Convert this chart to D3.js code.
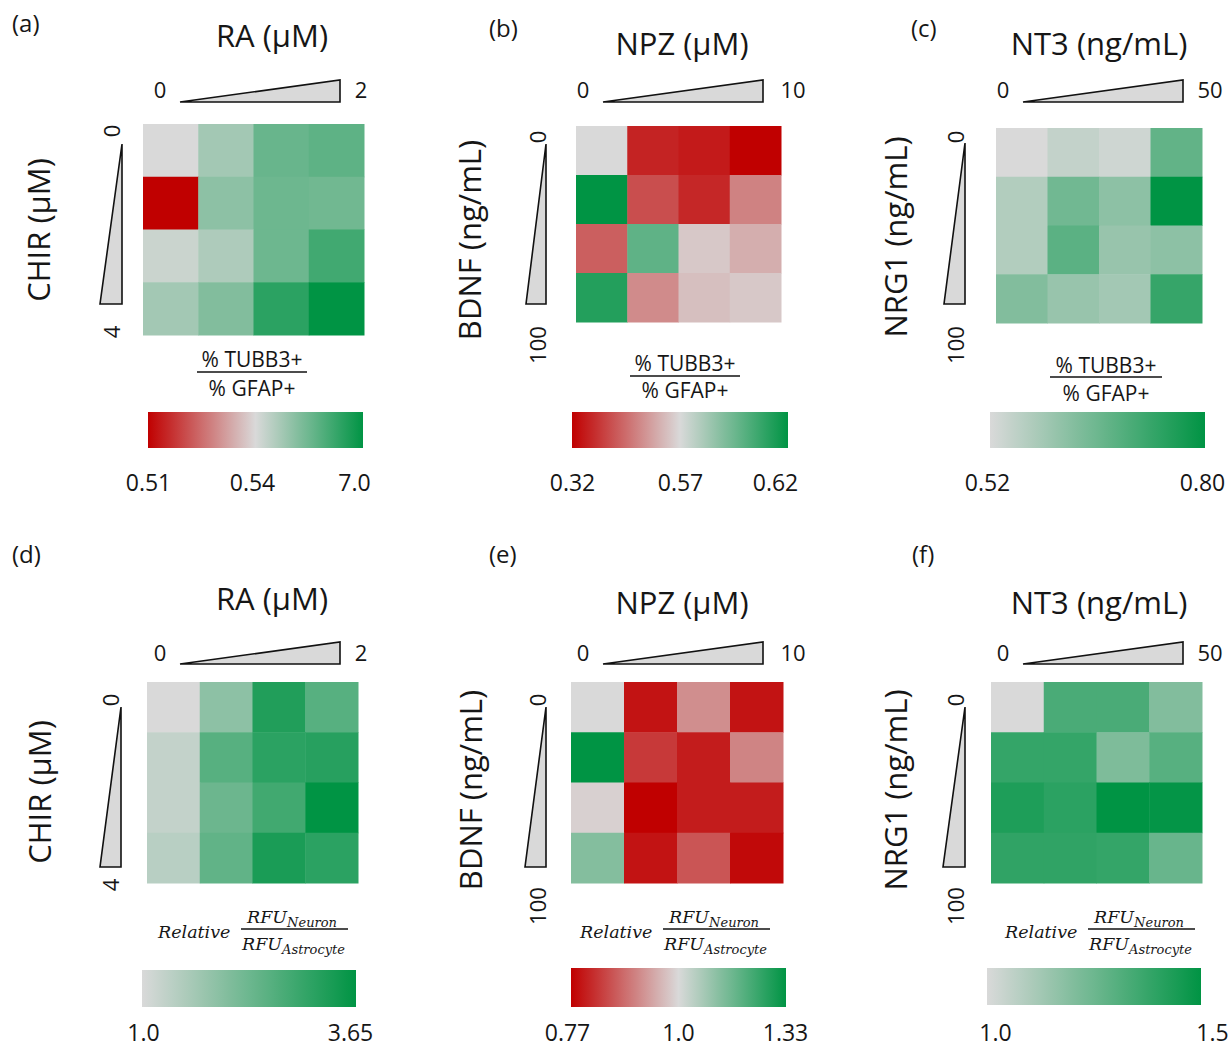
<!DOCTYPE html>
<html>
<head>
<meta charset="utf-8">
<script src="https://cdn.jsdelivr.net/npm/d3@7"></script>
<style>
  html, body { margin: 0; padding: 0; background: #ffffff; }
  svg { display: block; }
  text { font-family: "Open Sans", "Noto Sans", sans-serif; fill: #161616; }
  .rel text { font-family: "DejaVu Serif", "Liberation Serif", serif; font-style: italic; }
</style>
</head>
<body>
<svg id="chart" width="1231" height="1049"></svg>
<script>
// ---------------- DATA ----------------
const panelLabels = ["(a)", "(b)", "(c)", "(d)", "(e)", "(f)"];
const xTitles = ["RA (μM)", "NPZ (μM)", "NT3 (ng/mL)", "RA (μM)", "NPZ (μM)", "NT3 (ng/mL)"];
const yTitles = ["CHIR (μM)", "BDNF (ng/mL)", "NRG1 (ng/mL)", "CHIR (μM)", "BDNF (ng/mL)", "NRG1 (ng/mL)"];
const xEndLabels = [["0", "2"], ["0", "10"], ["0", "50"], ["0", "2"], ["0", "10"], ["0", "50"]];
const yEndLabels = [["0", "4"], ["0", "100"], ["0", "100"], ["0", "4"], ["0", "100"], ["0", "100"]];
const colLevels = ["L1", "L2", "L3", "L4"];
const rowLevels = ["L1", "L2", "L3", "L4"];
const legendKinds = ["ratio", "ratio", "ratio", "rfu", "rfu", "rfu"];

// colour-scale break values (min, [mid,] max) and their printed labels
const colorDomains = [
  [0.51, 0.54, 7.0],
  [0.32, 0.57, 0.62],
  [0.52, 0.80],
  [1.0, 3.65],
  [0.77, 1.0, 1.33],
  [1.0, 1.5]
];
const tickLabels = [
  ["0.51", "0.54", "7.0"],
  ["0.32", "0.57", "0.62"],
  ["0.52", "0.80"],
  ["1.0", "3.65"],
  ["0.77", "1.0", "1.33"],
  ["1.0", "1.5"]
];

// cell values, rows top (0) -> bottom (max), columns left (0) -> right (max)
const valuesA = [
  [0.54, 2.16, 3.90, 4.20],
  [0.51, 2.80, 3.77, 3.64],
  [1.00, 1.83, 3.77, 5.06],
  [2.16, 3.12, 5.71, 7.00]
];
const valuesB = [
  [0.57, 0.36, 0.35, 0.32],
  [0.62, 0.41, 0.365, 0.47],
  [0.43, 0.598, 0.55, 0.52],
  [0.612, 0.48, 0.54, 0.55]
];
const valuesC = [
  [0.520, 0.548, 0.534, 0.674],
  [0.570, 0.654, 0.618, 0.800],
  [0.570, 0.682, 0.604, 0.618],
  [0.632, 0.604, 0.590, 0.730]
];
const valuesD = [
  [1.00, 1.93, 3.25, 2.59],
  [1.27, 2.59, 3.12, 3.17],
  [1.27, 2.33, 2.86, 3.65],
  [1.40, 2.46, 3.33, 3.12]
];
const valuesE = [
  [1.00, 0.79, 0.92, 0.79],
  [1.33, 0.83, 0.80, 0.91],
  [0.99, 0.77, 0.80, 0.80],
  [1.13, 0.79, 0.86, 0.78]
];
const valuesF = [
  [1.00, 1.33, 1.33, 1.20],
  [1.38, 1.38, 1.21, 1.30],
  [1.43, 1.40, 1.50, 1.49],
  [1.39, 1.39, 1.38, 1.26]
];
const panelValues = [valuesA, valuesB, valuesC, valuesD, valuesE, valuesF];

// ---------------- STYLE / LAYOUT ----------------
const RED = "#C00000", GRAY = "#D9D9D9", GREEN = "#009444";

const layouts = [
  { lab: [12, 32], title: [272, 47], tri: [180, 340, 80, 102], triLab: [160, 361, 98],
    heat: [143, 364, 124, 335], vtri: [100, 122, 144, 304], vLab: [111, 131, 332], yTitle: [38, 230],
    cb: { cx: 252, b1: 367, line: [197, 307, 372], b2: 396 }, bar: [148, 363, 412, 448], ticks: [148, 252, 354], tickY: 491 },
  { lab: [489, 37], title: [682, 55], tri: [603, 763, 80, 102], triLab: [583, 793, 98],
    heat: [576, 781, 126, 322], vtri: [526, 546, 144, 304], vLab: [537, 137, 345], yTitle: [469, 240],
    cb: { cx: 685, b1: 371, line: [630, 740, 376], b2: 398 }, bar: [572, 788, 412, 448], ticks: [572, 680, 775], tickY: 491 },
  { lab: [911, 37], title: [1099, 55], tri: [1023, 1183, 80, 102], triLab: [1003, 1210, 98],
    heat: [996, 1202, 128, 323], vtri: [944, 965, 143, 304], vLab: [955, 137, 345], yTitle: [895, 237],
    cb: { cx: 1106, b1: 373, line: [1050, 1162, 377], b2: 401 }, bar: [990, 1205, 412, 448], ticks: [987, 1202], tickY: 491 },
  { lab: [12, 563], title: [272, 610], tri: [180, 340, 642, 664], triLab: [160, 361, 661],
    heat: [147, 358, 682, 883], vtri: [100, 121, 707, 867], vLab: [110, 700, 885], yTitle: [39, 792],
    rel: [158, 932], bar: [142, 356, 970, 1007], ticks: [143, 350], tickY: 1041 },
  { lab: [489, 563], title: [682, 614], tri: [603, 763, 642, 664], triLab: [583, 793, 661],
    heat: [571, 783, 682, 883], vtri: [525, 546, 707, 867], vLab: [537, 700, 906], yTitle: [470, 790],
    rel: [580, 932], bar: [571, 786, 968, 1007], ticks: [567, 678, 785], tickY: 1041 },
  { lab: [912, 563], title: [1099, 614], tri: [1023, 1183, 642, 664], triLab: [1003, 1210, 661],
    heat: [991, 1202, 682, 883], vtri: [943, 965, 707, 867], vLab: [955, 700, 906], yTitle: [895, 790],
    rel: [1005, 932], bar: [987, 1201, 968, 1005], ticks: [995, 1212], tickY: 1041 }
];

// ---------------- DRAW ----------------
const svg = d3.select("#chart");
const defs = svg.append("defs");

panelLabels.forEach((lbl, p) => {
  const L = layouts[p];
  const g = svg.append("g");
  const dom = colorDomains[p];
  const range = dom.length === 3 ? [RED, GRAY, GREEN] : [GRAY, GREEN];
  const color = d3.scaleLinear().domain(dom).range(range).interpolate(d3.interpolateRgb).clamp(true);

  // panel letter
  g.append("text").attr("x", L.lab[0]).attr("y", L.lab[1]).attr("font-size", 24).text(lbl);

  // x title
  g.append("text").attr("x", L.title[0]).attr("y", L.title[1]).attr("text-anchor", "middle")
    .attr("font-size", 31).text(xTitles[p]);

  // horizontal wedge
  const [tx0, tx1, ty0, ty1] = L.tri;
  g.append("path").attr("d", `M${tx0},${ty1}L${tx1},${ty1}L${tx1},${ty0}Z`)
    .attr("fill", GRAY).attr("stroke", "#111").attr("stroke-width", 1.6).attr("stroke-linejoin", "miter");
  g.append("text").attr("x", L.triLab[0]).attr("y", L.triLab[2]).attr("text-anchor", "middle")
    .attr("font-size", 22).text(xEndLabels[p][0]);
  g.append("text").attr("x", L.triLab[1]).attr("y", L.triLab[2]).attr("text-anchor", "middle")
    .attr("font-size", 22).text(xEndLabels[p][1]);

  // vertical wedge
  const [vx0, vx1, vy0, vy1] = L.vtri;
  g.append("path").attr("d", `M${vx1},${vy0}L${vx1},${vy1}L${vx0},${vy1}Z`)
    .attr("fill", GRAY).attr("stroke", "#111").attr("stroke-width", 1.6);
  g.append("text").attr("transform", `translate(${L.vLab[0]},${L.vLab[1]}) rotate(-90)`)
    .attr("text-anchor", "middle").attr("dominant-baseline", "central").attr("font-size", 22).text(yEndLabels[p][0]);
  g.append("text").attr("transform", `translate(${L.vLab[0]},${L.vLab[2]}) rotate(-90)`)
    .attr("text-anchor", "middle").attr("dominant-baseline", "central").attr("font-size", 22).text(yEndLabels[p][1]);

  // y title
  g.append("text").attr("transform", `translate(${L.yTitle[0]},${L.yTitle[1]}) rotate(-90)`)
    .attr("text-anchor", "middle").attr("dominant-baseline", "central").attr("font-size", 31).text(yTitles[p]);

  // heatmap
  const [hx0, hx1, hy0, hy1] = L.heat;
  const xs = d3.scaleBand().domain(colLevels).range([hx0, hx1]);
  const ys = d3.scaleBand().domain(rowLevels).range([hy0, hy1]);
  const cells = [];
  panelValues[p].forEach((row, r) => row.forEach((v, c) => cells.push({ r: rowLevels[r], c: colLevels[c], v })));
  g.selectAll("rect.cell").data(cells).enter().append("rect").attr("class", "cell")
    .attr("x", d => xs(d.c)).attr("y", d => ys(d.r))
    .attr("width", xs.bandwidth() + 0.5).attr("height", ys.bandwidth() + 0.5)
    .attr("fill", d => color(d.v));

  // legend title
  if (legendKinds[p] === "ratio") {
    const cb = L.cb;
    g.append("text").attr("x", cb.cx).attr("y", cb.b1).attr("text-anchor", "middle").attr("font-size", 21).text("% TUBB3+");
    g.append("line").attr("x1", cb.line[0]).attr("x2", cb.line[1]).attr("y1", cb.line[2]).attr("y2", cb.line[2])
      .attr("stroke", "#111").attr("stroke-width", 1.6);
    g.append("text").attr("x", cb.cx).attr("y", cb.b2).attr("text-anchor", "middle").attr("font-size", 21).text("% GFAP+");
  } else {
    const [rx, ry] = L.rel;
    const rg = g.append("g").attr("class", "rel");
    rg.append("text").attr("x", rx).attr("y", ry).attr("dominant-baseline", "central").attr("font-size", 17.5).text("Relative");
    const num = rg.append("text").attr("x", rx + 89).attr("y", ry - 9).attr("font-size", 17.5);
    num.append("tspan").text("RFU");
    num.append("tspan").attr("font-size", 13).attr("dy", 4).text("Neuron");
    rg.append("line").attr("x1", rx + 83).attr("x2", rx + 190).attr("y1", ry - 3).attr("y2", ry - 3)
      .attr("stroke", "#111").attr("stroke-width", 1.4);
    const den = rg.append("text").attr("x", rx + 84).attr("y", ry + 18).attr("font-size", 17.5);
    den.append("tspan").text("RFU");
    den.append("tspan").attr("font-size", 13).attr("dy", 4).text("Astrocyte");
  }

  // colour bar
  const [bx0, bx1, by0, by1] = L.bar;
  const gid = "grad" + p;
  const grad = defs.append("linearGradient").attr("id", gid).attr("x1", "0%").attr("x2", "100%");
  const posToVal = d3.scaleLinear().domain(dom.length === 3 ? [0, 0.5, 1] : [0, 1]).range(dom);
  d3.range(0, 1.0001, 0.05).forEach(t => {
    grad.append("stop").attr("offset", (t * 100) + "%").attr("stop-color", color(posToVal(t)));
  });
  g.append("rect").attr("x", bx0).attr("y", by0).attr("width", bx1 - bx0).attr("height", by1 - by0)
    .attr("fill", `url(#${gid})`);

  // colour-bar tick labels via axis
  const tickScale = d3.scaleLinear().domain(dom).range(L.ticks);
  const axis = d3.axisBottom(tickScale).tickValues(dom).tickSize(0)
    .tickFormat((d, i) => tickLabels[p][i]);
  const ag = g.append("g").attr("transform", `translate(0,${L.tickY - 17})`).call(axis);
  ag.select(".domain").remove();
  ag.selectAll("text").attr("font-size", 23).attr("font-family", "'Open Sans', sans-serif")
    .attr("fill", "#161616").attr("dy", 0).attr("y", 17);
});
</script>
</body>
</html>
